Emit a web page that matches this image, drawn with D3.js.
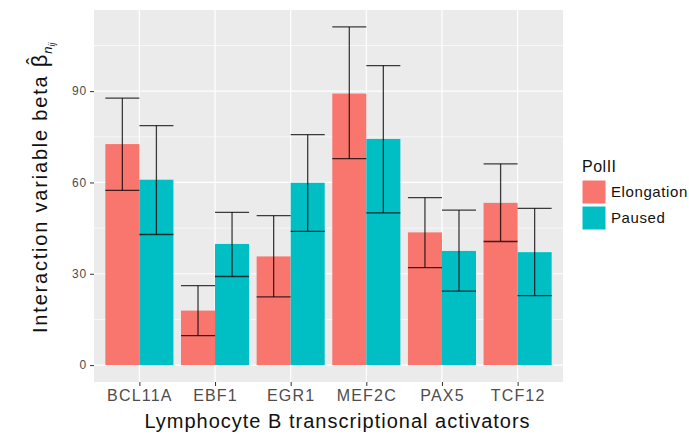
<!DOCTYPE html>
<html>
<head>
<meta charset="utf-8">
<script src="https://cdn.jsdelivr.net/npm/d3@7"></script>
<style>
  body { margin: 0; background: #fff; }
  text { font-family: "Liberation Sans", Arial, Helvetica, sans-serif; }
</style>
</head>
<body>
<div id="chart"></div>
<script>
var categories = ["BCL11A", "EBF1", "EGR1", "MEF2C", "PAX5", "TCF12"]
var groups = ["Elongation", "Paused"]
var elongation = [72.6, 17.9, 35.7, 89.2, 43.6, 53.3]
var elongationLow = [57.4, 9.7, 22.4, 67.8, 32.0, 40.6]
var elongationHigh = [87.7, 26.1, 49.1, 111.1, 55.0, 66.1]
var paused = [60.9, 39.8, 59.9, 74.3, 37.5, 37.1]
var pausedLow = [42.9, 29.1, 43.9, 50.0, 24.3, 22.8]
var pausedHigh = [78.7, 50.2, 75.7, 98.4, 50.9, 51.5]
var yTicks = [0, 30, 60, 90]
var yMinor = [15, 45, 75, 105]
var colors = ["#F8766D", "#00BFC4"]

var W = 689, H = 438
var margin = {top: 10, bottom: 56, left: 94, right: 126}
var width = W - margin.left - margin.right,
    height = H - margin.top - margin.bottom

var rows = []
categories.forEach(function(c, i) {
  rows.push({cat: c, group: groups[0], v: elongation[i], lo: elongationLow[i], hi: elongationHigh[i]})
  rows.push({cat: c, group: groups[1], v: paused[i], lo: pausedLow[i], hi: pausedHigh[i]})
})

var svg = d3.select("#chart").append("svg")
  .attr("width", W).attr("height", H)
var g = svg.append("g")
  .attr("transform", "translate(" + margin.left + "," + margin.top + ")")

var yMax = d3.max(rows, function(d) { return d.hi })
var pad = yMax * 0.05
var y = d3.scaleLinear().domain([-pad, yMax + pad]).range([height, 0])

var step = width / (categories.length - 1 + 1.2)
var x = d3.scalePoint().domain(categories)
  .range([0.6 * step, width - 0.6 * step])
var bw = step * 0.45
var xg = d3.scaleOrdinal().domain(groups).range([-bw, 0])
var color = d3.scaleOrdinal().domain(groups).range(colors)

g.append("rect").attr("width", width).attr("height", height).attr("fill", "#EBEBEB")

g.selectAll(".minor").data(yMinor).enter().append("line")
  .attr("x1", 0).attr("x2", width)
  .attr("y1", function(d) { return y(d) }).attr("y2", function(d) { return y(d) })
  .attr("stroke", "#fff").attr("stroke-width", 0.6)
g.selectAll(".major").data(yTicks).enter().append("line")
  .attr("x1", 0).attr("x2", width)
  .attr("y1", function(d) { return y(d) }).attr("y2", function(d) { return y(d) })
  .attr("stroke", "#fff").attr("stroke-width", 1.2)
g.selectAll(".vmajor").data(categories).enter().append("line")
  .attr("x1", function(d) { return x(d) }).attr("x2", function(d) { return x(d) })
  .attr("y1", 0).attr("y2", height)
  .attr("stroke", "#fff").attr("stroke-width", 1.2)

g.selectAll(".bar").data(rows).enter().append("rect")
  .attr("x", function(d) { return x(d.cat) + xg(d.group) })
  .attr("width", bw)
  .attr("y", function(d) { return y(d.v) })
  .attr("height", function(d) { return y(0) - y(d.v) })
  .attr("fill", function(d) { return color(d.group) })

var eb = g.selectAll(".err").data(rows).enter().append("g")
  .attr("stroke", "#000").attr("stroke-opacity", 0.75).attr("stroke-width", 1.3)
eb.append("line")
  .attr("x1", function(d) { return x(d.cat) + xg(d.group) + bw / 2 })
  .attr("x2", function(d) { return x(d.cat) + xg(d.group) + bw / 2 })
  .attr("y1", function(d) { return y(d.lo) }).attr("y2", function(d) { return y(d.hi) })
eb.append("line")
  .attr("x1", function(d) { return x(d.cat) + xg(d.group) })
  .attr("x2", function(d) { return x(d.cat) + xg(d.group) + bw })
  .attr("y1", function(d) { return y(d.hi) }).attr("y2", function(d) { return y(d.hi) })
eb.append("line")
  .attr("x1", function(d) { return x(d.cat) + xg(d.group) })
  .attr("x2", function(d) { return x(d.cat) + xg(d.group) + bw })
  .attr("y1", function(d) { return y(d.lo) }).attr("y2", function(d) { return y(d.lo) })

// axes
var ya = g.append("g").call(d3.axisLeft(y).tickValues(yTicks).tickSize(4).tickPadding(3))
ya.select(".domain").remove()
ya.selectAll("line").attr("stroke", "#333")
ya.selectAll("text").attr("fill", "#4D4D4D").style("font-size", "12px").style("letter-spacing", "0.8px")

var xa = g.append("g").attr("transform", "translate(0," + height + ")")
  .call(d3.axisBottom(x).tickSize(4).tickPadding(4))
xa.select(".domain").remove()
xa.selectAll("line").attr("stroke", "#333")
xa.selectAll("text").attr("fill", "#4D4D4D").style("font-size", "16px").style("letter-spacing", "1.2px")

svg.append("text")
  .attr("x", margin.left + width / 2 + 9).attr("y", 428)
  .attr("text-anchor", "middle").style("font-size", "20px").style("letter-spacing", "1px").attr("fill", "#111")
  .text("Lymphocyte B transcriptional activators")

var yt = svg.append("text")
  .attr("transform", "translate(47,333) rotate(-90)")
  .attr("text-anchor", "start").style("font-size", "20px").attr("fill", "#111")
yt.append("tspan").style("letter-spacing", "1.8px").text("Interaction variable beta ")
yt.append("tspan").style("font-size", "22px").text("\u03B2")
yt.append("tspan").attr("dx", -10).attr("dy", -6).style("font-size", "20px").text("\u02C6")
yt.append("tspan").attr("dx", 4).attr("dy", 11).style("font-size", "13px").style("font-style", "italic").text("n")
yt.append("tspan").attr("dy", 3).style("font-size", "9px").style("font-style", "italic").text("ij")

// legend
var lg = svg.append("g").attr("transform", "translate(582,0)")
lg.append("text").attr("x", 0).attr("y", 171.5).style("font-size", "16px").style("letter-spacing", "0.5px").attr("fill", "#111").text("PolII")
var items = lg.selectAll(".item").data(groups).enter().append("g")
  .attr("transform", function(d, i) { return "translate(0," + (180 + i * 26) + ")" })
items.append("rect").attr("width", 24).attr("height", 24).attr("fill", function(d) { return color(d) })
  .attr("stroke", "#fff").attr("stroke-width", 1)
items.append("text").attr("x", 29).attr("y", 17).style("font-size", "15px").style("letter-spacing", "0.6px").attr("fill", "#111")
  .text(function(d) { return d })
</script>
</body>
</html>
